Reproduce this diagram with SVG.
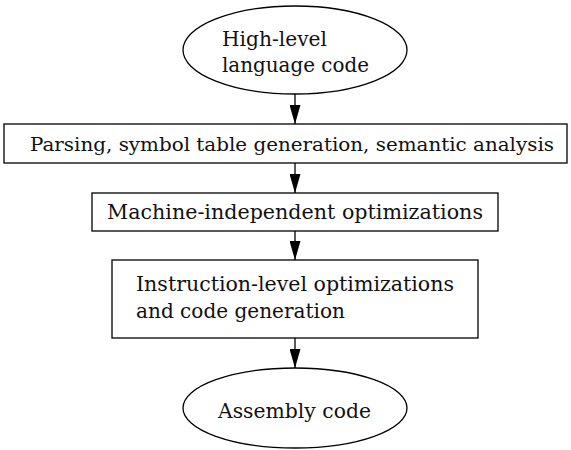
<svg xmlns="http://www.w3.org/2000/svg" width="571" height="450" viewBox="0 0 571 450">
<style>
.s{fill:#fff;stroke:#000;stroke-width:1.3}
.t{font-family:"DejaVu Serif","Liberation Serif",serif;font-size:21px;fill:#111}
.c{stroke:#000;stroke-width:1.3;fill:none}
</style>
<defs>
<marker id="a" viewBox="0 0 19 11" refX="19" refY="5.5" markerWidth="19" markerHeight="11" markerUnits="userSpaceOnUse" orient="auto">
<path d="M0,0 L19,5.5 L0,11 z" fill="#000"/>
</marker>
</defs>
<g id="connectors">
<line class="c" x1="295" y1="94" x2="295" y2="124" marker-end="url(#a)"/>
<line class="c" x1="295" y1="163" x2="295" y2="193" marker-end="url(#a)"/>
<line class="c" x1="295" y1="231" x2="295" y2="260" marker-end="url(#a)"/>
<line class="c" x1="295" y1="338" x2="295" y2="368" marker-end="url(#a)"/>
</g>
<g id="n1">
<ellipse class="s" cx="295" cy="50" rx="112" ry="44"/>
<text class="t" x="222" y="46" textLength="105" lengthAdjust="spacingAndGlyphs">High-level</text>
<text class="t" x="222" y="72" textLength="147" lengthAdjust="spacingAndGlyphs">language code</text>
</g>
<g id="n2">
<rect class="s" x="4" y="124" width="563" height="39"/>
<text class="t" x="30" y="151" style="font-size:19px" textLength="524" lengthAdjust="spacingAndGlyphs">Parsing, symbol table generation, semantic analysis</text>
</g>
<g id="n3">
<rect class="s" x="92" y="193" width="406" height="38"/>
<text class="t" x="107" y="219" textLength="376" lengthAdjust="spacingAndGlyphs">Machine-independent optimizations</text>
</g>
<g id="n4">
<rect class="s" x="112" y="260" width="366" height="78"/>
<text class="t" x="136" y="291" textLength="318" lengthAdjust="spacingAndGlyphs">Instruction-level optimizations</text>
<text class="t" x="136" y="318" textLength="209" lengthAdjust="spacingAndGlyphs">and code generation</text>
</g>
<g id="n5">
<ellipse class="s" cx="295" cy="408" rx="112" ry="40"/>
<text class="t" x="218" y="418" textLength="153" lengthAdjust="spacingAndGlyphs">Assembly code</text>
</g>
</svg>
